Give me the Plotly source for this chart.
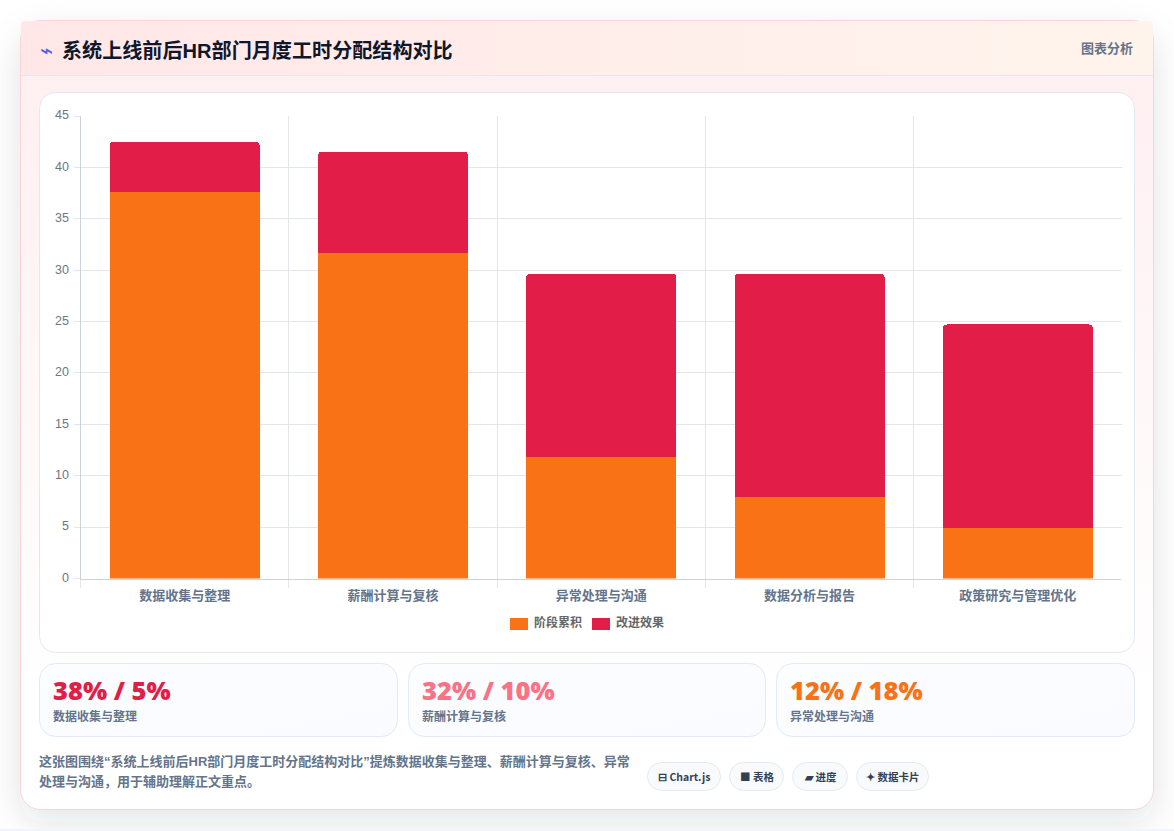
import base64
import plotly.graph_objects as go

W, H = 1174, 831

# Chart data
categories = ["数据收集与整理", "薪酬计算与复核", "异常处理与沟通", "数据分析与报告", "政策研究与管理优化"]
stage_values = [38, 32, 12, 8, 5]
effect_values = [5, 10, 18, 22, 20]
series_names = ["阶段累积", "改进效果"]
y_ticks = [0, 5, 10, 15, 20, 25, 30, 35, 40, 45]

# Text content
title_text = "系统上线前后HR部门月度工时分配结构对比"
badge_text = "图表分析"
stat_values = ["38% / 5%", "32% / 10%", "12% / 18%"]
stat_labels = ["数据收集与整理", "薪酬计算与复核", "异常处理与沟通"]
note_lines = [
    "这张图围绕“系统上线前后HR部门月度工时分配结构对比”提炼数据收集与整理、薪酬计算与复核、异常",
    "处理与沟通，用于辅助理解正文重点。",
]
pill_labels = ["⊟ Chart.js", "■ 表格", "▰ 进度", "✦ 数据卡片"]

# Colours
ORANGE = "#f97316"
CRIMSON = "#e11d48"
ROSE = "#fb7185"
SLATE = "#64748b"
GRID = "#e3e7ec"
AXIS = "#cdd3db"
CJK = "Liberation Sans, Noto Sans CJK SC"

stat_colors = [CRIMSON, ROSE, ORANGE]
stat_boxes = [(39.5, 397.5), (408.5, 765.5), (776.5, 1134.5)]
pill_boxes = [(647.5, 720.5), (729.5, 783.5), (792.5, 847.5), (856.5, 928.5)]


def px(x):
    return x / W


def py(y):
    return 1 - y / H


def card_rect(x0, y0, x1, y1, r, fill, stroke):
    return (f'<rect x="{x0}" y="{y0}" width="{x1 - x0}" height="{y1 - y0}" rx="{r}" '
            f'fill="{fill}" stroke="{stroke}" stroke-width="1"/>')


# Page backdrop: card shadow, tinted card, header band and inner panels
parts = [
    f'<svg xmlns="http://www.w3.org/2000/svg" width="{W}" height="{H}" viewBox="0 0 {W} {H}">',
    '<defs>',
    '<filter id="soft" x="-20%" y="-20%" width="140%" height="140%"><feGaussianBlur stdDeviation="17"/></filter>',
    '<linearGradient id="head" x1="0" y1="0" x2="1" y2="0">'
    '<stop offset="0" stop-color="#ffe7e8"/><stop offset="1" stop-color="#fff4ec"/></linearGradient>',
    '<linearGradient id="body" x1="0" y1="0" x2="0" y2="1">'
    '<stop offset="0" stop-color="#ffeef0"/><stop offset="0.85" stop-color="#ffffff"/></linearGradient>',
    '<linearGradient id="stat" x1="0" y1="0" x2="1" y2="1">'
    '<stop offset="0" stop-color="#fbfdff"/><stop offset="1" stop-color="#f9fbfe"/></linearGradient>',
    '</defs>',
    f'<rect width="{W}" height="{H}" fill="#ffffff"/>',
    '<rect x="21" y="34" width="1132" height="788" rx="20" fill="#1f2937" fill-opacity="0.12" filter="url(#soft)"/>',
    f'<rect x="0" y="829" width="{W}" height="2" fill="#f1f5f9"/>',
    card_rect(20.5, 20.5, 1153.5, 809.5, 20, "url(#body)", "#fad4d8"),
    '<rect x="21" y="21" width="1132" height="54" rx="4" fill="url(#head)"/>',
    '<rect x="21" y="75" width="1132" height="1" fill="#e8e6f2"/>',
    card_rect(39.5, 92.5, 1134.5, 652.5, 16, "#ffffff", "#e4e8f1"),
]
for x0, x1 in stat_boxes:
    parts.append(card_rect(x0, 663.5, x1, 736.5, 16, "url(#stat)", "#e1eaf6"))
for x0, x1 in pill_boxes:
    parts.append(card_rect(x0, 762.5, x1, 790.5, 14, "#f8fafc", "#e5eaf1"))
parts.append('</svg>')
backdrop = "data:image/svg+xml;base64," + base64.b64encode("".join(parts).encode()).decode()

fig = go.Figure()

# Gridlines and tick labels come from this axis; it needs a trace to exist
fig.add_trace(go.Scatter(x=categories, y=[None] * len(categories), showlegend=False, hoverinfo="skip"))

# Stacked bars sit on a second value axis with a slightly longer range
for name, values, color in zip(series_names, [stage_values, effect_values], [ORANGE, CRIMSON]):
    fig.add_trace(go.Bar(
        x=categories, y=values, name=name, yaxis="y2", width=0.72,
        marker=dict(color=color, line=dict(width=0)),
        showlegend=False,
    ))


def label(text, x, y, size, color, anchor="left", weight=400, family=CJK):
    # Annotations carry a small built-in pad, so the left/right edge is pulled back by it
    nudge = {"left": -2, "right": 2, "center": 0}[anchor]
    return dict(
        text=text, x=px(x + nudge), y=py(y), xref="paper", yref="paper", showarrow=False,
        xanchor=anchor, yanchor="middle", align=anchor,
        font=dict(family=family, size=size, color=color, weight=weight),
    )


annotations = [
    label("⌁", 40, 50, 22, "#4f63e5", family="DejaVu Sans"),
    label(title_text, 62, 50, 20.1, "#0f172a", weight=700),
    label(badge_text, 1133, 48, 13, SLATE, anchor="right", weight=700),
    label(series_names[0], 534, 622, 12, "#666666", weight=600),
    label(series_names[1], 616, 622, 12, "#666666", weight=600),
    label(note_lines[0], 39, 761, 13, SLATE, weight=700),
    label(note_lines[1], 39, 781, 13, SLATE, weight=700),
]
for (x0, _), value, caption, color in zip(stat_boxes, stat_values, stat_labels, stat_colors):
    annotations.append(label(value, x0 + 13.5, 690, 25.5, color, weight=900, family="Noto Sans"))
    annotations.append(label(caption, x0 + 13.5, 716, 12, SLATE, weight=600))
for (x0, x1), text in zip(pill_boxes, pill_labels):
    annotations.append(label(text, (x0 + x1) / 2, 776.5, 10.5, "#334155", anchor="center", weight=700,
                             family="Noto Sans CJK SC"))

legend_swatches = [
    dict(type="rect", xref="paper", yref="paper", x0=px(510), x1=px(528), y0=py(630), y1=py(618),
         fillcolor=ORANGE, line_width=0),
    dict(type="rect", xref="paper", yref="paper", x0=px(592), x1=px(610), y0=py(630), y1=py(618),
         fillcolor=CRIMSON, line_width=0),
    # The x axis stops flush at its right end, without a closing tick
    dict(type="rect", xref="paper", yref="paper", x0=px(1120.5), x1=px(1124), y0=py(588), y1=py(579.5),
         fillcolor="#ffffff", line_width=0),
]

fig.update_layout(
    width=W, height=H, autosize=False,
    margin=dict(l=0, r=0, t=0, b=0),
    paper_bgcolor="rgba(0,0,0,0)", plot_bgcolor="rgba(0,0,0,0)",
    barmode="stack", barcornerradius=4,
    showlegend=False,
    font=dict(family=CJK, color=SLATE),
    images=[dict(source=backdrop, xref="paper", yref="paper", x=0, y=1, sizex=1, sizey=1,
                 xanchor="left", yanchor="top", sizing="stretch", layer="below")],
    annotations=annotations,
    shapes=legend_swatches,
    xaxis=dict(
        domain=[px(80.5), px(1122)],
        type="category", categoryorder="array", categoryarray=categories,
        tickson="boundaries", ticks="outside", ticklen=8, tickcolor=GRID, tickwidth=1,
        showgrid=True, gridcolor=GRID, gridwidth=1,
        showline=True, linecolor=AXIS, linewidth=1, layer="above traces",
        ticklabelstandoff=5,
        tickfont=dict(family=CJK, size=13, color=SLATE, weight=600),
        automargin=False, zeroline=False,
    ),
    yaxis=dict(
        domain=[py(578.5), py(116)],
        range=[0, 45], tickvals=y_ticks, ticks="outside", ticklen=6,
        tickcolor=GRID, tickwidth=1,
        showgrid=True, gridcolor=GRID, gridwidth=1, zeroline=False,
        showline=True, linecolor=AXIS, linewidth=1,
        ticklabelstandoff=2, ticklabelshift=-1,
        tickfont=dict(family="Liberation Sans", size=12.5, color="#6b7785"),
        automargin=False,
    ),
    yaxis2=dict(
        domain=[py(578.5), py(116)],
        range=[0, 45.52], overlaying="y", side="left", visible=False, showgrid=False, zeroline=False,
    ),
)

fig.write_html("out.html", config={"displayModeBar": False})
